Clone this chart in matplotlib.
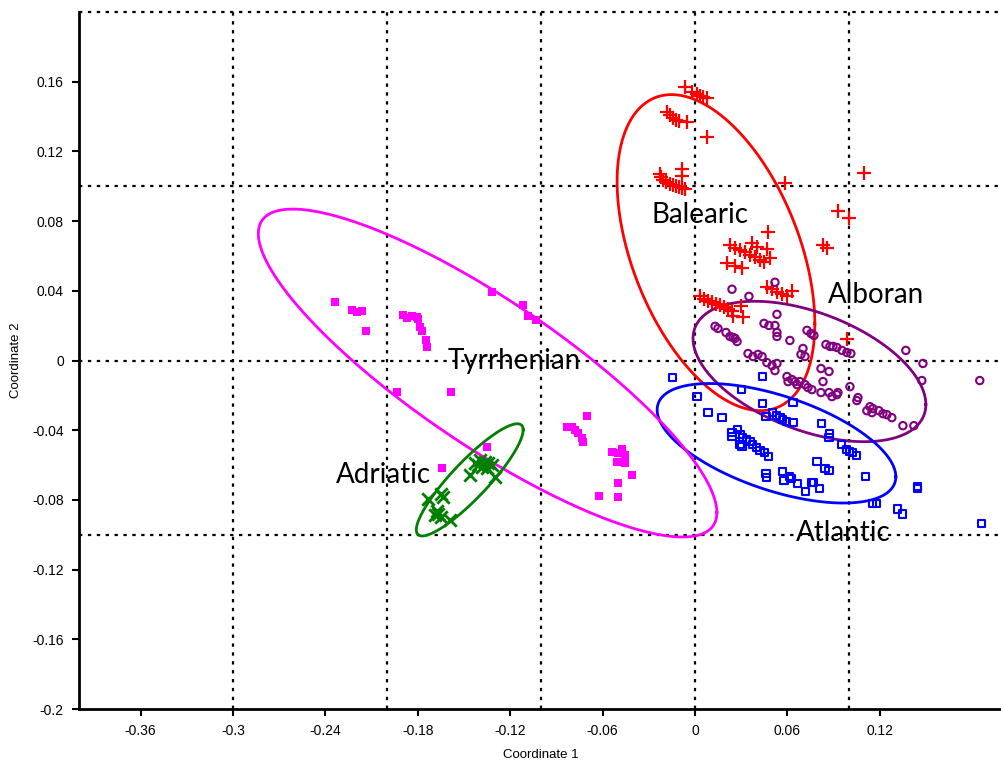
import numpy as np
import matplotlib
matplotlib.use("Agg")
import matplotlib.pyplot as plt

# --- data (Coordinate 1, Coordinate 2) ---
balearic_x = [-0.0065, -0.0019, 0.0013, 0.0032, 0.0052, 0.0078, -0.0182, -0.0162, -0.0143, -0.0123,
              -0.0104, -0.0052, 0.0078, -0.0227, -0.0221, -0.0208, -0.0188, -0.0162, -0.0143, -0.0123,
              -0.0104, -0.0084, -0.0065, -0.0084, -0.0084, 0.0584, 0.1097, 0.0928, 0.0999, 0.0474,
              0.0227, 0.0260, 0.0292, 0.0324, 0.0357, 0.0389, 0.0422, 0.0448, 0.0370, 0.0402,
              0.0467, 0.0487, 0.0208, 0.0260, 0.0305, 0.0831, 0.0857, 0.0467, 0.0500, 0.0532,
              0.0565, 0.0597, 0.0630, 0.0032, 0.0058, 0.0084, 0.0110, 0.0136, 0.0162, 0.0188,
              0.0214, 0.0240, 0.0299, 0.0247, 0.0311, 0.0986]
balearic_y = [0.1572, 0.1543, 0.1531, 0.1520, 0.1514, 0.1508, 0.1428, 0.1410, 0.1393, 0.1382,
              0.1376, 0.1370, 0.1284, 0.1071, 0.1054, 0.1036, 0.1025, 0.1013, 0.1007, 0.1002,
              0.0996, 0.0990, 0.0984, 0.1100, 0.1059, 0.1019, 0.1077, 0.0858, 0.0817, 0.0737,
              0.0662, 0.0645, 0.0633, 0.0622, 0.0604, 0.0593, 0.0576, 0.0564, 0.0674, 0.0651,
              0.0639, 0.0587, 0.0558, 0.0541, 0.0530, 0.0662, 0.0645, 0.0420, 0.0409, 0.0391,
              0.0380, 0.0368, 0.0397, 0.0368, 0.0351, 0.0340, 0.0334, 0.0322, 0.0317, 0.0305,
              0.0294, 0.0282, 0.0311, 0.0253, 0.0248, 0.0121]

alboran_x = [0.0240, 0.0519, 0.0350, 0.0532, 0.0130, 0.0149, 0.0201, 0.0227, 0.0247, 0.0260,
             0.0273, 0.0448, 0.0480, 0.0519, 0.0532, 0.0532, 0.0616, 0.0727, 0.0753, 0.0772,
             0.0701, 0.0688, 0.0714, 0.0850, 0.0876, 0.0896, 0.0921, 0.0954, 0.0986, 0.1012,
             0.1369, 0.1480, 0.0344, 0.0376, 0.0409, 0.0435, 0.0467, 0.0500, 0.0532, 0.0519,
             0.0597, 0.0604, 0.0629, 0.0649, 0.0662, 0.0681, 0.0714, 0.0733, 0.0759, 0.0818,
             0.0870, 0.0831, 0.0818, 0.0870, 0.0889, 0.0921, 0.0928, 0.1006, 0.1473, 0.1849,
             0.1058, 0.1051, 0.1116, 0.1136, 0.1155, 0.1149, 0.1194, 0.1220, 0.1246, 0.1278,
             0.1350, 0.1421]
alboran_y = [0.0409, 0.0449, 0.0368, 0.0265, 0.0196, 0.0184, 0.0161, 0.0138, 0.0132, 0.0127,
             0.0109, 0.0213, 0.0201, 0.0201, 0.0161, 0.0138, 0.0115, 0.0173, 0.0155, 0.0144,
             0.0069, 0.0035, 0.0023, 0.0092, 0.0081, 0.0081, 0.0075, 0.0058, 0.0046, 0.0040,
             0.0058, -0.0017, 0.0040, 0.0023, 0.0035, 0.0023, -0.0012, -0.0029, -0.0017, -0.0058,
             -0.0092, -0.0121, -0.0109, -0.0121, -0.0138, -0.0121, -0.0138, -0.0155, -0.0167, -0.0046,
             -0.0063, -0.0121, -0.0184, -0.0184, -0.0207, -0.0196, -0.0184, -0.0150, -0.0115, -0.0115,
             -0.0213, -0.0230, -0.0288, -0.0265, -0.0276, -0.0299, -0.0288, -0.0305, -0.0311, -0.0328,
             -0.0374, -0.0374]

atlantic_x = [-0.0149, 0.0013, 0.0084, 0.0175, 0.0299, 0.0441, 0.0441, 0.0461, 0.0636, 0.0506,
              0.0532, 0.0552, 0.0571, 0.0597, 0.0636, 0.0824, 0.0876, 0.0870, 0.0954, 0.0986,
              0.1006, 0.1025, 0.1051, 0.0240, 0.0273, 0.0240, 0.0292, 0.0311, 0.0337, 0.0357,
              0.0376, 0.0402, 0.0422, 0.0454, 0.0480, 0.0292, 0.0305, 0.0792, 0.0844, 0.0870,
              0.1110, 0.0461, 0.0467, 0.0571, 0.0578, 0.0616, 0.0623, 0.0668, 0.0720, 0.0759,
              0.0772, 0.0811, 0.1447, 0.1447, 0.1155, 0.1181, 0.1317, 0.1350, 0.1862]
atlantic_y = [-0.0098, -0.0207, -0.0299, -0.0328, -0.0167, -0.0092, -0.0248, -0.0322, -0.0242, -0.0299,
              -0.0317, -0.0328, -0.0340, -0.0351, -0.0357, -0.0363, -0.0420, -0.0443, -0.0484, -0.0512,
              -0.0524, -0.0530, -0.0547, -0.0415, -0.0397, -0.0438, -0.0426, -0.0443, -0.0455, -0.0466,
              -0.0484, -0.0501, -0.0518, -0.0530, -0.0553, -0.0484, -0.0495, -0.0581, -0.0622, -0.0633,
              -0.0668, -0.0651, -0.0674, -0.0639, -0.0691, -0.0668, -0.0679, -0.0708, -0.0754, -0.0702,
              -0.0702, -0.0737, -0.0725, -0.0737, -0.0823, -0.0823, -0.0852, -0.0881, -0.0933]

tyrrhenian_x = [-0.2336, -0.2226, -0.2193, -0.2161, -0.2135, -0.1895, -0.1869, -0.1836, -0.1804, -0.1798,
                -0.1785, -0.1772, -0.1746, -0.1739, -0.1934, -0.1583, -0.1317, -0.1116, -0.1084, -0.1032,
                -0.0701, -0.0831, -0.0798, -0.0779, -0.0759, -0.0733, -0.0727, -0.1350, -0.1642, -0.0539,
                -0.0500, -0.0474, -0.0454, -0.0506, -0.0454, -0.0409, -0.0500, -0.0500, -0.0623]
tyrrhenian_y = [0.0334, 0.0288, 0.0276, 0.0282, 0.0167, 0.0259, 0.0242, 0.0253, 0.0248, 0.0236,
                0.0190, 0.0167, 0.0115, 0.0075, -0.0178, -0.0178, 0.0391, 0.0317, 0.0253, 0.0230,
                -0.0317, -0.0380, -0.0380, -0.0397, -0.0415, -0.0443, -0.0466, -0.0495, -0.0616, -0.0524,
                -0.0530, -0.0507, -0.0541, -0.0581, -0.0587, -0.0656, -0.0702, -0.0783, -0.0777]

adriatic_x = [-0.1428, -0.1395, -0.1363, -0.1343, -0.1317, -0.1382, -0.1350, -0.1408, -0.1460, -0.1298,
              -0.1733, -0.1648, -0.1635, -0.1674, -0.1668, -0.1648, -0.1687, -0.1590]
adriatic_y = [-0.0587, -0.0570, -0.0581, -0.0587, -0.0599, -0.0610, -0.0616, -0.0599, -0.0656, -0.0668,
              -0.0794, -0.0766, -0.0783, -0.0864, -0.0881, -0.0898, -0.0887, -0.0915]

# 95% ellipses: centre x, centre y, sd x, sd y, correlation
ellipse_balearic = [0.0136, 0.0619, 0.0642, 0.0907, -0.45]
ellipse_alboran = [0.0743, -0.0063, 0.0756, 0.0403, -0.47]
ellipse_atlantic = [0.0529, -0.0475, 0.0775, 0.0343, -0.56]
ellipse_tyrrhenian = [-0.1347, -0.0072, 0.1489, 0.0941, -0.85]
ellipse_adriatic = [-0.1463, -0.0685, 0.0347, 0.0322, 0.89]

x_ticks = [-0.36, -0.3, -0.24, -0.18, -0.12, -0.06, 0, 0.06, 0.12]
y_ticks = [-0.2, -0.16, -0.12, -0.08, -0.04, 0, 0.04, 0.08, 0.12, 0.16]


def ellipse_xy(p):
    cx, cy, sx, sy, r = p
    t = np.linspace(0, 2 * np.pi, 300)
    ex = cx + sx * np.cos(t)
    ey = cy + sy * (r * np.cos(t) + np.sqrt(1 - r * r) * np.sin(t))
    return ex, ey


fig = plt.figure(figsize=(10.01, 7.65), dpi=100)
ax = fig.add_axes([0.079, 0.0732, 0.923, 0.9111])

# dotted reference lines
for gx in [-0.3, -0.2, -0.1, 0, 0.1]:
    ax.axvline(gx, color="black", linestyle=(0, (1.5, 2.5)), linewidth=1.6, zorder=1)
for gy in [-0.1, 0, 0.1, 0.2]:
    ax.axhline(gy, color="black", linestyle=(0, (1.5, 2.5)), linewidth=1.6, zorder=1, clip_on=False)

ax.scatter(balearic_x, balearic_y, marker="+", s=95, color="#ff0000", linewidths=1.6, zorder=3)
ax.scatter(alboran_x, alboran_y, marker="o", s=28, facecolors="none", edgecolors="#800080",
           linewidths=1.5, zorder=3)
ax.scatter(atlantic_x, atlantic_y, marker="s", s=26, facecolors="none", edgecolors="#0000ff",
           linewidths=1.5, zorder=3)
ax.scatter(tyrrhenian_x, tyrrhenian_y, marker="s", s=30, color="#ff00ff", linewidths=0, zorder=3)
ax.scatter(adriatic_x, adriatic_y, marker="x", s=80, color="#008000", linewidths=2, zorder=3)

for p, c in [(ellipse_balearic, "#ff0000"), (ellipse_alboran, "#800080"),
             (ellipse_atlantic, "#0000ff"), (ellipse_tyrrhenian, "#ff00ff"),
             (ellipse_adriatic, "#008000")]:
    ex, ey = ellipse_xy(p)
    ax.plot(ex, ey, color=c, linewidth=2, zorder=2)

lbl = dict(fontsize=20, family="Lato", color="black", ha="center", va="center", zorder=4)
ax.text(0.0032, 0.0835, "Balearic", **lbl)
ax.text(0.1175, 0.0374, "Alboran", **lbl)
ax.text(-0.1175, 0.0, "Tyrrhenian", **lbl)
ax.text(-0.2025, -0.0656, "Adriatic", **lbl)
ax.text(0.0960, -0.0990, "Atlantic", **lbl)

ax.set_xlim(-0.4, 0.2)
ax.set_ylim(-0.2, 0.2)
ax.set_xticks(x_ticks)
ax.set_yticks(y_ticks)
ax.set_xticklabels([f"{v:g}" for v in x_ticks])
ax.set_yticklabels([f"{v:g}" for v in y_ticks])
for lab in ax.get_xticklabels() + ax.get_yticklabels():
    lab.set_family("Liberation Sans")
    lab.set_fontsize(10)
ax.tick_params(direction="out", length=5, width=1.5, colors="black", pad=6)

for s in ["top", "right"]:
    ax.spines[s].set_visible(False)
for s in ["left", "bottom"]:
    ax.spines[s].set_linewidth(2)

ax.set_xlabel("Coordinate 1", fontsize=9.5, family="Liberation Sans", labelpad=8)
ax.set_ylabel("Coordinate 2", fontsize=9.5, family="Liberation Sans", labelpad=7)

fig.savefig("out.png", dpi=100)
